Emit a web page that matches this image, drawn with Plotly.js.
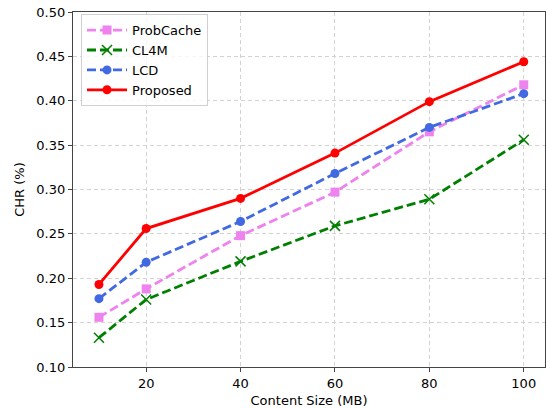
<!DOCTYPE html>
<html><head><meta charset="utf-8">
<script src="https://cdn.plot.ly/plotly-3.0.1.min.js"></script>
<style>html,body{margin:0;padding:0;background:#fff}#chart{width:546px;height:408px}</style>
</head><body><div id="chart"></div>
<script>
const contentSize = [10, 20, 40, 60, 80, 100];
const probCache = [0.156, 0.188, 0.248, 0.297, 0.365, 0.418];
const cl4m = [0.133, 0.176, 0.219, 0.259, 0.289, 0.356];
const lcd = [0.177, 0.218, 0.264, 0.318, 0.370, 0.408];
const proposed = [0.193, 0.256, 0.290, 0.341, 0.399, 0.444];
const xTicks = [20, 40, 60, 80, 100];
const yTicks = [0.10, 0.15, 0.20, 0.25, 0.30, 0.35, 0.40, 0.45, 0.50];

const traces = [
  {x: contentSize, y: probCache, name: 'ProbCache', mode: 'lines+markers',
   line: {color: '#ee82ee', width: 2.8, dash: '9px,4px'}, marker: {symbol: 'square', size: 9, color: '#ee82ee'}},
  {x: contentSize, y: cl4m, name: 'CL4M', mode: 'lines+markers',
   line: {color: '#008000', width: 2.8, dash: '9px,4px'}, marker: {symbol: 'x-thin', size: 10, color: '#008000', line: {color: '#008000', width: 1.5}}},
  {x: contentSize, y: lcd, name: 'LCD', mode: 'lines+markers',
   line: {color: '#4169e1', width: 2.8, dash: '9px,4px'}, marker: {symbol: 'circle', size: 9, color: '#4169e1'}},
  {x: contentSize, y: proposed, name: 'Proposed', mode: 'lines+markers',
   line: {color: '#ff0000', width: 2.8}, marker: {symbol: 'circle', size: 9, color: '#ff0000'}}
];

const axisCommon = {
  showline: true, mirror: true, linecolor: '#444', linewidth: 1.2,
  ticks: 'outside', ticklen: 4, tickcolor: '#444', tickwidth: 1,
  showgrid: true, gridcolor: '#d3d3d3', griddash: '4px,3px', gridwidth: 1,
  zeroline: false, tickfont: {size: 13, color: '#000', family: 'DejaVu Sans'}
};

const layout = {
  width: 546, height: 408,
  margin: {l: 73, r: 1, t: 12, b: 41},
  paper_bgcolor: '#fff', plot_bgcolor: '#fff',
  font: {family: 'DejaVu Sans', color: '#000'},
  xaxis: Object.assign({}, axisCommon, {range: [4.5, 104.5], tickvals: xTicks, ticktext: xTicks.map(String),
    title: {text: 'Content Size (MB)', font: {size: 13}, standoff: 6}}),
  yaxis: Object.assign({}, axisCommon, {range: [0.10, 0.50], tickvals: yTicks, ticktext: yTicks.map(v => v.toFixed(2)),
    title: {text: 'CHR (%)', font: {size: 13}, standoff: 8}}),
  showlegend: true,
  legend: {x: 0.017, y: 0.994, xanchor: 'left', yanchor: 'top', bgcolor: 'rgba(255,255,255,0.8)',
    bordercolor: '#d0d0d0', borderwidth: 1, font: {size: 13}, tracegroupgap: 0, itemwidth: 40}
};

Plotly.newPlot('chart', traces, layout, {displayModeBar: false, staticPlot: true});
</script></body></html>
